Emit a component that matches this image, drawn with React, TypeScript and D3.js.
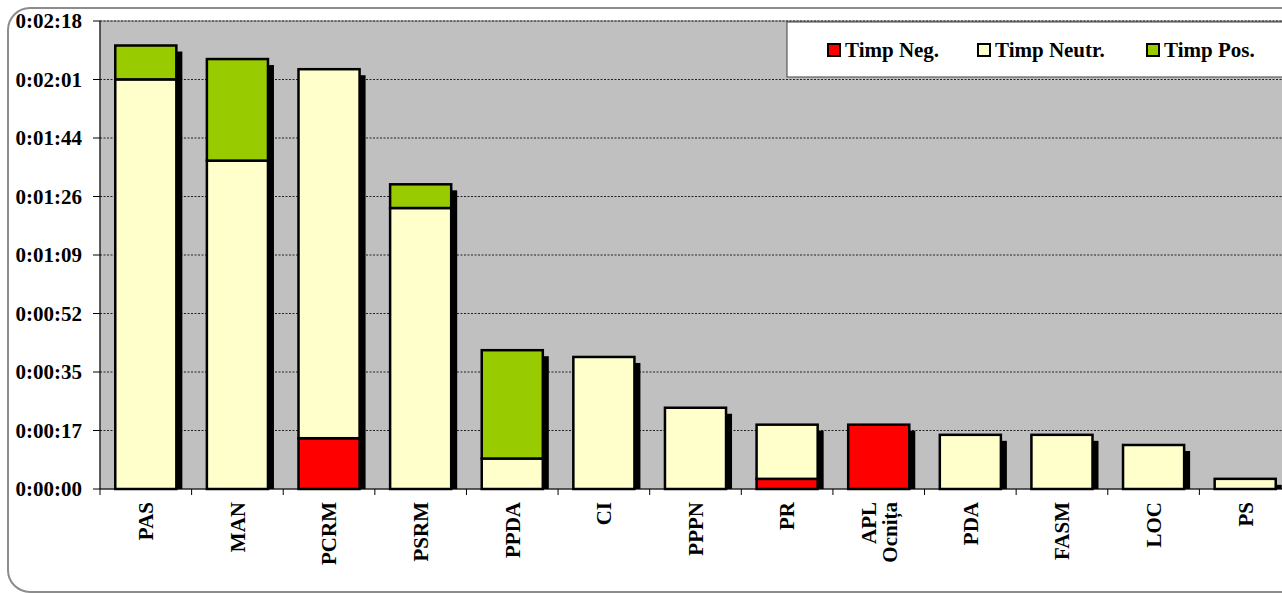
import React from 'react';
import * as d3 from 'd3';

// durations in seconds
const categories = ['PAS', 'MAN', 'PCRM', 'PSRM', 'PPDA', 'CI', 'PPPN', 'PR', 'APL\nOcnița', 'PDA', 'FASM', 'LOC', 'PS'];
const timpNeg = [0, 0, 15, 0, 0, 0, 0, 3, 19, 0, 0, 0, 0];
const timpNeutr = [121, 97, 109, 83, 9, 39, 24, 16, 0, 16, 16, 13, 3];
const timpPos = [10, 30, 0, 7, 32, 0, 0, 0, 0, 0, 0, 0, 0];

const seriesKeys = ['neg', 'neutr', 'pos'];
const seriesNames = ['Timp Neg.', 'Timp Neutr.', 'Timp Pos.'];
const seriesColors = ['#FF0000', '#FFFFCC', '#99CC00'];

// Excel axis step 0.0002 day = 17.28 s
const yTickLabels = ['0:00:00', '0:00:17', '0:00:35', '0:00:52', '0:01:09', '0:01:26', '0:01:44', '0:02:01', '0:02:18'];
const yStep = 17.28;

const W = 1282;
const H = 593;
const left = 100;
const right = 1291;
const top = 21;
const bottom = 489;
const font = '"Liberation Serif", "Times New Roman", serif';

const App: React.FC = () => {
    const rows = categories.map((c, i) => ({ cat: c, neg: timpNeg[i], neutr: timpNeutr[i], pos: timpPos[i] }));
    const stacked = d3.stack<any>().keys(seriesKeys)(rows);

    const x = d3.scaleBand<string>()
        .domain(categories)
        .range([left, right])
        .paddingInner(1 / 3)
        .paddingOuter(1 / 6);
    const y = d3.scaleLinear().domain([0, yStep * 8]).range([bottom, top]);
    const yTicks = yTickLabels.map((_, i) => i * yStep);
    const step = x.step();
    const shadow = 6;

    return (
        <svg width={W} height={H} style={{ position: 'fixed', left: 0, top: 0, background: '#fff' }}
            fontFamily={font} fontWeight="bold">
            <rect x={8} y={8} width={1300} height={584} rx={22} fill="#fff" stroke="#8c8c8c" strokeWidth={2} />

            {/* plot area */}
            <rect x={left} y={top} width={right - left + 10} height={bottom - top} fill="#C0C0C0" stroke="#808080" strokeWidth={1} />

            {yTicks.slice(1).map((t, i) => (
                <line key={i} x1={left} x2={right + 10} y1={y(t)} y2={y(t)} stroke="#222" strokeWidth={1} strokeDasharray="2,1.5" />
            ))}

            {/* shadows */}
            {rows.map((r, i) => {
                const total = r.neg + r.neutr + r.pos;
                const bx = x(r.cat)!;
                const yt = y(total);
                return (
                    <rect key={'s' + i} x={bx + shadow} y={yt + shadow} width={x.bandwidth()}
                        height={Math.max(0, bottom - yt - shadow)} fill="#000" />
                );
            })}

            {stacked.map((s, si) => (
                <g key={s.key}>
                    {s.map((d, i) => {
                        if (d[1] - d[0] <= 0) return null;
                        return (
                            <rect key={i} x={x(categories[i])!} y={y(d[1])} width={x.bandwidth()}
                                height={y(d[0]) - y(d[1])} fill={seriesColors[si]} stroke="#000" strokeWidth={2.5} />
                        );
                    })}
                </g>
            ))}

            {/* axes */}
            <line x1={left} x2={left} y1={top} y2={bottom} stroke="#000" strokeWidth={1} />
            <line x1={left} x2={right + 10} y1={bottom} y2={bottom} stroke="#000" strokeWidth={1} />
            {yTicks.map((t, i) => (
                <g key={i}>
                    <line x1={left - 7} x2={left} y1={y(t)} y2={y(t)} stroke="#000" />
                    <text x={82} y={y(t)} dy="0.35em" textAnchor="end" fontSize={21}>{yTickLabels[i]}</text>
                </g>
            ))}
            {categories.map((c, i) => {
                const bx = left + i * step;
                const cx = x(c)! + x.bandwidth() / 2;
                const lines = c.split('\n');
                return (
                    <g key={c}>
                        <line x1={bx} x2={bx} y1={bottom} y2={bottom + 6} stroke="#000" />
                        <text transform={`translate(${cx},${bottom + 13}) rotate(-90)`} textAnchor="end" fontSize={21}>
                            {lines.map((l, li) => (
                                <tspan key={li} x={0} y={(li - (lines.length - 1) / 2) * 21} dy="0.35em">{l}</tspan>
                            ))}
                        </text>
                    </g>
                );
            })}

            {/* legend */}
            <rect x={787} y={22} width={520} height={55} fill="#fff" stroke="#404040" strokeWidth={1} />
            {seriesNames.map((n, i) => {
                const lx = [828, 978, 1147][i];
                return (
                    <g key={n}>
                        <rect x={lx} y={44} width={12} height={12} fill={seriesColors[i]} stroke="#000" strokeWidth={2} />
                        <text x={lx + 17} y={57} fontSize={21}>{n}</text>
                    </g>
                );
            })}
        </svg>
    );
};

export default App;
